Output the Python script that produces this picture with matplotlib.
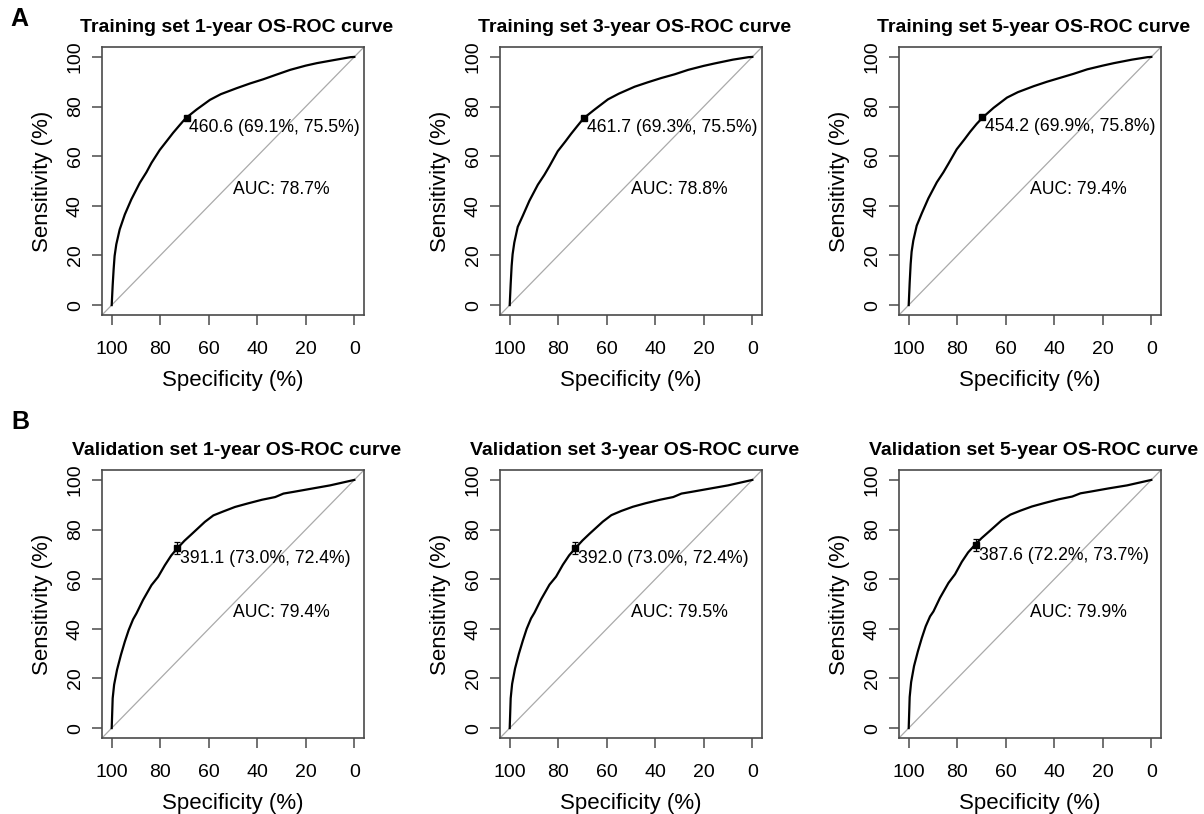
import numpy as np
import matplotlib
matplotlib.use("Agg")
import matplotlib.pyplot as plt

plt.rcParams['font.family'] = ['Liberation Sans', 'DejaVu Sans']

# Training set curves (specificity %, sensitivity %)
train_spec = [100, 99.6, 99.2, 98.8, 98.1, 96.7, 94.6, 91.9, 88.4, 85.7, 83.6, 80.2,
              77.0, 74.7, 72.0, 69.5, 65.0, 59.5, 55.0, 48.5, 43.0, 37.5, 32.0,
              26.4, 20.0, 15.4, 8.0, 1.6, 0]
train_sens_1y = [0, 8, 14.5, 19.8, 24.5, 30.5, 36.5, 42.6, 49.3, 53.5, 57.3, 62.5,
                 66.5, 69.4, 72.5, 75.3, 78.8, 82.7, 85.0, 87.4, 89.3, 91.0, 92.9,
                 94.8, 96.5, 97.5, 98.8, 99.9, 100]
train_sens_3y = [0, 8.5, 15.8, 20.5, 25.2, 31.5, 36.0, 42.0, 48.5, 52.5, 56.0, 62.0,
                 66.0, 69.0, 72.3, 75.3, 78.8, 82.9, 85.2, 88.0, 89.8, 91.5, 93.0,
                 94.8, 96.4, 97.4, 98.9, 99.9, 100]
train_sens_5y = [0, 9, 16.5, 21.5, 26.0, 32.0, 37.0, 43.0, 49.5, 53.5, 57.0, 62.8,
                 66.8, 69.8, 73.0, 75.6, 79.5, 83.6, 85.8, 88.2, 90.0, 91.6, 93.2,
                 95.0, 96.5, 97.5, 98.9, 99.9, 100]

# Validation set curves
valid_spec = [100, 99.6, 99.0, 97.8, 96.2, 94.6, 93.0, 91.2, 89.8, 87.1, 83.6, 80.9,
              78.1, 75.5, 73.0, 70.0, 67.1, 61.6, 58.1, 54.0, 49.2, 44.0, 38.1,
              32.6, 29.2, 25.0, 17.5, 10.0, 0]
valid_sens_1y = [0, 12, 17.5, 23.5, 29.5, 34.8, 39.5, 43.8, 46.2, 51.6, 57.6, 60.9,
                 65.6, 69.5, 72.4, 75.5, 78.1, 83.1, 85.7, 87.3, 89.1, 90.5, 92.0,
                 93.1, 94.5, 95.2, 96.5, 97.8, 100]
valid_sens_3y = [0, 12, 17.8, 24.0, 30.0, 35.2, 40.0, 44.2, 46.5, 51.8, 57.8, 61.0,
                 65.8, 69.6, 72.4, 75.6, 78.3, 83.2, 85.8, 87.5, 89.2, 90.6, 92.0,
                 93.1, 94.5, 95.2, 96.5, 97.8, 100]
valid_sens_5y = [0, 12.5, 18.5, 25.0, 31.0, 36.3, 41.0, 45.0, 47.0, 52.5, 58.5, 62.0,
                 67.0, 70.8, 73.5, 76.5, 79.0, 83.8, 86.0, 87.6, 89.3, 90.7, 92.2,
                 93.3, 94.6, 95.3, 96.6, 97.8, 100]

titles = ["Training set 1-year OS-ROC curve", "Training set 3-year OS-ROC curve",
          "Training set 5-year OS-ROC curve", "Validation set 1-year OS-ROC curve",
          "Validation set 3-year OS-ROC curve", "Validation set 5-year OS-ROC curve"]
thresholds = [460.6, 461.7, 454.2, 391.1, 392.0, 387.6]
best_spec = [69.1, 69.3, 69.9, 73.0, 73.0, 72.2]
best_sens = [75.5, 75.5, 75.8, 72.4, 72.4, 73.7]
sens_ci = [0.8, 0.8, 0.8, 2.4, 2.4, 2.4]
aucs = [78.7, 78.8, 79.4, 79.4, 79.5, 79.9]

curves = [(train_spec, train_sens_1y), (train_spec, train_sens_3y), (train_spec, train_sens_5y),
          (valid_spec, valid_sens_1y), (valid_spec, valid_sens_3y), (valid_spec, valid_sens_5y)]

W, H = 1204, 814
fig = plt.figure(figsize=(W / 100, H / 100), dpi=100)

lefts = [102, 500, 899]
tops = [47, 470]
aw, ah = 262, 268
box_col = "#4a4a4a"

for i in range(6):
    r, c = divmod(i, 3)
    ax = fig.add_axes([lefts[c] / W, 1 - (tops[r] + ah) / H, aw / W, ah / H])
    spec, sens = curves[i]
    ax.axline((100, 0), (0, 100), color="#aaaaaa", lw=0.9, zorder=1)
    ax.plot(spec, sens, color="black", lw=1.6, zorder=2)
    ax.errorbar(best_spec[i], best_sens[i], yerr=sens_ci[i], fmt="s", color="black",
                ms=4.5, capsize=2.5, elinewidth=0.9, capthick=0.9, zorder=3)
    ax.annotate(f"{thresholds[i]:.1f} ({best_spec[i]:.1f}%, {best_sens[i]:.1f}%)",
                (best_spec[i], best_sens[i]), xytext=(2, -1), textcoords="offset points",
                ha="left", va="top", fontsize=12.7)
    ax.text(50, 50, f"AUC: {aucs[i]:.1f}%", ha="left", va="top", fontsize=12.7)

    ax.set_xlim(104, -4)
    ax.set_ylim(-4, 104)
    ax.set_xticks([100, 80, 60, 40, 20, 0])
    ax.set_yticks([0, 20, 40, 60, 80, 100])
    ax.tick_params(direction="out", length=7, width=1.1, color=box_col, labelsize=14)
    ax.tick_params(axis="x", pad=12)
    ax.tick_params(axis="y", pad=6)
    for lab in ax.get_yticklabels():
        lab.set_rotation(90)
        lab.set_va("center")
    for s in ax.spines.values():
        s.set_color(box_col)
        s.set_linewidth(1.2)
    ax.set_xlabel("Specificity (%)", fontsize=16, labelpad=8)
    ax.set_ylabel("Sensitivity (%)", fontsize=16, labelpad=10)
    ax.set_title(titles[i], fontsize=14, fontweight="bold", pad=11, x=0.515)

fig.text(10 / W, 1 - 19 / H, "A", fontsize=18, fontweight="bold", va="center", ha="left")
fig.text(11 / W, 1 - 422 / H, "B", fontsize=18, fontweight="bold", va="center", ha="left")

fig.savefig("out.png", dpi=100)
